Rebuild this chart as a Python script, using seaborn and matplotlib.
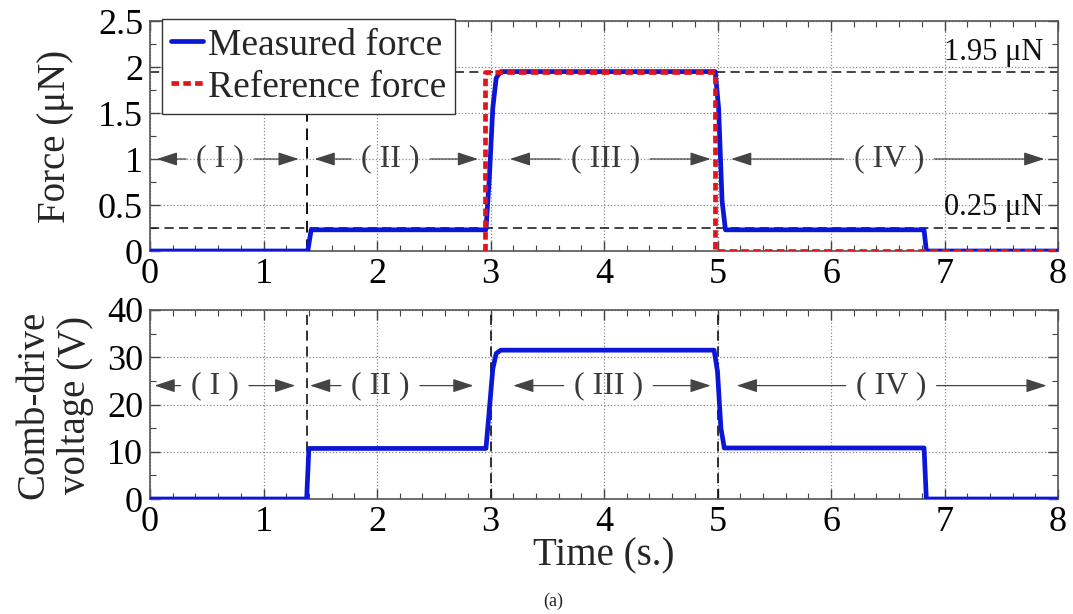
import matplotlib
matplotlib.use("Agg")
import matplotlib.pyplot as plt
import seaborn as sns
import pandas as pd
from matplotlib.ticker import MultipleLocator, FuncFormatter

# ---------------- data ----------------
time_force = [0.0, 1.39, 1.42, 2.96, 2.99, 3.02, 3.05, 3.09, 4.98, 5.01, 5.04, 5.07, 6.82, 6.84, 8.0]
measured_force = [0.0, 0.0, 0.23, 0.23, 0.80, 1.55, 1.88, 1.95, 1.95, 1.55, 0.55, 0.23, 0.23, 0.0, 0.0]

time_ref = [2.95, 2.95, 4.98, 4.98, 8.0]
reference_force = [0.0, 1.95, 1.95, 0.0, 0.0]

time_volt = [0.0, 1.38, 1.40, 2.96, 2.99, 3.02, 3.05, 3.09, 4.97, 5.00, 5.03, 5.06, 6.82, 6.84, 8.0]
comb_voltage = [0.0, 0.0, 10.7, 10.7, 19.0, 27.5, 30.8, 31.5, 31.5, 27.0, 15.0, 10.8, 10.8, 0.0, 0.0]

force_guides = [0.25, 1.95]
force_guide_labels = ["0.25 μN", "1.95 μN"]
top_phase_lines = [1.38]
bottom_phase_lines = [1.38, 3.0, 5.0]

region_labels = ["( I )", "( II )", "( III )", "( IV )"]
top_region_left = [0.06, 1.45, 3.17, 5.12]
top_region_right = [1.31, 2.89, 4.94, 7.88]
top_region_center = [0.62, 2.12, 4.01, 6.51]
bottom_region_left = [0.04, 1.41, 3.20, 5.17]
bottom_region_right = [1.28, 2.85, 4.94, 7.90]
bottom_region_center = [0.57, 2.03, 4.04, 6.53]

x_ticks = [0, 1, 2, 3, 4, 5, 6, 7, 8]

# ---------------- style ----------------
sns.set_theme(style="ticks")
plt.rcParams["font.family"] = ["Liberation Serif", "DejaVu Serif"]

BLUE = "#0b16d6"
RED = "#e2141c"
GRAY = "#3a3a3a"

fig = plt.figure(figsize=(10.73, 6.14), dpi=100)
W, H = 1073, 614
ax1 = fig.add_axes([150 / W, 1 - 251 / H, 908 / W, 230 / H])
ax2 = fig.add_axes([150 / W, 1 - 499 / H, 908 / W, 189 / H])

df_f = pd.DataFrame({"t": time_force, "f": measured_force})
df_r = pd.DataFrame({"t": time_ref, "f": reference_force})
df_v = pd.DataFrame({"t": time_volt, "v": comb_voltage})

# ---------- top panel ----------
for y in force_guides:
    ax1.axhline(y, color="#111111", ls=(0, (6, 3.5)), lw=1.1, zorder=1.5)
for x in top_phase_lines:
    ax1.axvline(x, color="#111111", ls=(0, (6, 3.5)), lw=1.4, zorder=1.5)

sns.lineplot(data=df_f, x="t", y="f", ax=ax1, color=BLUE, lw=3.4, sort=False,
             estimator=None, label="Measured force", zorder=3)
sns.lineplot(data=df_r, x="t", y="f", ax=ax1, color=RED, lw=3.4, sort=False,
             estimator=None, label="Reference force", zorder=4, dashes=False)
ax1.lines[-1].set_linestyle((0, (1.6, 0.9)))

ax1.set_xlim(0, 8)
ax1.set_ylim(0, 2.5)
ax1.yaxis.set_major_locator(MultipleLocator(0.5))
ax1.yaxis.set_minor_locator(MultipleLocator(0.25))

for yv, lab in zip([0.47, 2.16], force_guide_labels):
    ax1.text(7.43, yv, lab, ha="center", va="center", fontsize=22, color="#111111", zorder=5)

def draw_regions(ax, y, lefts, rights, centers):
    for lab, l, r, c in zip(region_labels, lefts, rights, centers):
        ap = dict(arrowstyle="-|>,head_length=0.55,head_width=0.18", color="#444444",
                  lw=0.9, shrinkA=5, shrinkB=0)
        ax.annotate(lab, xy=(l, y), xytext=(c, y), ha="center", va="center",
                    fontsize=23, color=GRAY, arrowprops=ap, zorder=5)
        ax.annotate(lab, xy=(r, y), xytext=(c, y), ha="center", va="center",
                    fontsize=23, color="none", arrowprops=ap, zorder=5)

draw_regions(ax1, 1.0, top_region_left, top_region_right, top_region_center)

leg = ax1.legend(loc="upper left", bbox_to_anchor=(0.013, 1.01), borderaxespad=0,
                 fontsize=27, frameon=True, fancybox=False, framealpha=1,
                 edgecolor="#333333", handlelength=0.85, handletextpad=0.12,
                 borderpad=0.25, labelspacing=0.2)
leg.get_frame().set_linewidth(1.0)
leg.set_zorder(10)

ax1.set_ylabel("Force (μN)", fontsize=28)
ax1.yaxis.set_label_coords(-0.084, 0.5)
ax1.set_xlabel("")

# ---------- bottom panel ----------
for x in bottom_phase_lines:
    ax2.axvline(x, color="#111111", ls=(0, (6, 3.5)), lw=1.2, zorder=1.5)
sns.lineplot(data=df_v, x="t", y="v", ax=ax2, color=BLUE, lw=3.4, sort=False,
             estimator=None, zorder=3)
ax2.set_xlim(0, 8)
ax2.set_ylim(0, 40)
ax2.yaxis.set_major_locator(MultipleLocator(10))
ax2.yaxis.set_minor_locator(MultipleLocator(5))
draw_regions(ax2, 24.0, bottom_region_left, bottom_region_right, bottom_region_center)

ax2.set_ylabel("Comb-drive\nvoltage (V)", fontsize=28, linespacing=1.15)
ax2.yaxis.set_label_coords(-0.062, 0.5)
ax2.set_xlabel("Time (s.)", fontsize=28)
ax2.xaxis.set_label_coords(0.5, -0.205)

fmt = FuncFormatter(lambda v, p: "%g" % v)
for ax in (ax1, ax2):
    ax.set_xticks(x_ticks)
    ax.xaxis.set_minor_locator(MultipleLocator(0.2))
    ax.yaxis.set_major_formatter(fmt)
    ax.tick_params(which="both", direction="in", top=True, right=True,
                   labelsize=26, colors="#444444", labelcolor="black")
    ax.tick_params(which="major", length=7, width=1.0, pad=5)
    ax.tick_params(which="minor", length=4, width=0.8)
    ax.grid(True, which="major", ls=":", color="#8a8a8a", lw=0.9, zorder=0)
    for sp in ax.spines.values():
        sp.set_color("#555555")
        sp.set_linewidth(1.2)
        sp.set_visible(True)
    ax.set_axisbelow(True)

fig.text(553 / W, 1 - 601 / H, "(a)", ha="center", va="center", fontsize=13)

fig.savefig("out.png", dpi=100)
